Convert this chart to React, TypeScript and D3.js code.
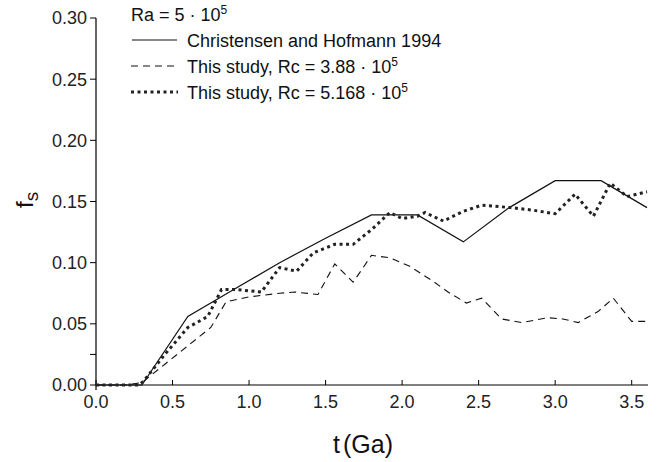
import React from "react";
import * as d3 from "d3";

const W = 662;
const H = 462;

// Christensen and Hofmann 1994
const chT = [0, 0.3, 0.6, 0.9, 1.2, 1.5, 1.8, 2.1, 2.4, 2.7, 3.0, 3.3, 3.6];
const chV = [0, 0, 0.056, 0.078, 0.1, 0.12, 0.139, 0.139, 0.117, 0.145, 0.167, 0.167, 0.145];

// This study, Rc = 3.88e5 (dashed)
const daT = [0, 0.1, 0.2, 0.3, 0.45, 0.6, 0.75, 0.85, 1.0, 1.2, 1.3, 1.45, 1.56, 1.68, 1.8, 1.92, 2.05, 2.2, 2.3, 2.42, 2.52, 2.65, 2.78, 2.95, 3.05, 3.15, 3.28, 3.38, 3.5, 3.6];
const daV = [0, 0, 0, 0.002, 0.017, 0.032, 0.047, 0.068, 0.072, 0.075, 0.076, 0.074, 0.099, 0.084, 0.106, 0.104, 0.097, 0.085, 0.076, 0.067, 0.071, 0.054, 0.051, 0.055, 0.054, 0.051, 0.06, 0.071, 0.052, 0.052];

// This study, Rc = 5.168e5 (dotted)
const doT = [0, 0.28, 0.31, 0.45, 0.6, 0.73, 0.82, 0.92, 1.08, 1.2, 1.31, 1.42, 1.56, 1.68, 1.8, 1.92, 2.0, 2.1, 2.15, 2.27, 2.4, 2.52, 2.71, 2.85, 3.0, 3.13, 3.25, 3.36, 3.47, 3.6];
const doV = [0, 0, 0.003, 0.025, 0.047, 0.056, 0.078, 0.078, 0.076, 0.096, 0.093, 0.108, 0.115, 0.115, 0.127, 0.141, 0.136, 0.138, 0.141, 0.134, 0.142, 0.147, 0.145, 0.143, 0.14, 0.156, 0.138, 0.165, 0.154, 0.158];

const xTicks = [0, 0.5, 1.0, 1.5, 2.0, 2.5, 3.0, 3.5];
const yTicks = [0, 0.05, 0.1, 0.15, 0.2, 0.25, 0.3];
const yMinorTicks = [0.025];

const FONT = "'Liberation Sans', Arial, Helvetica, sans-serif";

export default function App() {
  const x = d3.scaleLinear().domain([0, 3.6]).range([96, 647]);
  const y = d3.scaleLinear().domain([0, 0.3]).range([385, 18]);

  const line = d3
    .line<[number, number]>()
    .x((d) => x(d[0]))
    .y((d) => y(d[1]));

  const ch = chT.map((t, i) => [t, chV[i]] as [number, number]);
  const da = daT.map((t, i) => [t, daV[i]] as [number, number]);
  const dO = doT.map((t, i) => [t, doV[i]] as [number, number]);

  const x0 = x(0);
  const y0 = y(0);

  return (
    <svg
      width={W}
      height={H}
      style={{ position: "absolute", left: 0, top: 0, background: "#fff" }}
      fontFamily={FONT}
    >
      <rect width={W} height={H} fill="#fff" />
      {/* axes */}
      <line x1={x0} x2={x0} y1={y(0.3)} y2={y0 + 5} stroke="#000" strokeWidth={1.2} />
      <line x1={x0} x2={x(3.6) + 1} y1={y0} y2={y0} stroke="#000" strokeWidth={1.2} />
      {yTicks.map((t) => (
        <g key={"y" + t}>
          <line x1={x0 - 6} x2={x0} y1={y(t)} y2={y(t)} stroke="#000" strokeWidth={1} />
          <text x={x0 - 9} y={y(t)} dy="0.36em" textAnchor="end" fontSize={18} fill="#222">
            {t.toFixed(2)}
          </text>
        </g>
      ))}
      {yMinorTicks.map((t) => (
        <line key={"ym" + t} x1={x0 - 6} x2={x0} y1={y(t)} y2={y(t)} stroke="#000" strokeWidth={1} />
      ))}
      {xTicks.map((t) => (
        <g key={"x" + t}>
          <line x1={x(t)} x2={x(t)} y1={y0 - 5} y2={y0} stroke="#000" strokeWidth={1} />
          <text x={x(t)} y={408} textAnchor="middle" fontSize={18} fill="#222">
            {t.toFixed(1)}
          </text>
        </g>
      ))}

      {/* axis titles */}
      <text x={333} y={453} fontSize={25} fill="#111">
        t<tspan dx={3}>(Ga)</tspan>
      </text>
      <text transform="translate(33,208) rotate(-90)" fontSize={24} fill="#111">
        f<tspan dy={5} fontSize={19}>s</tspan>
      </text>

      {/* data lines */}
      <path d={line(ch) || ""} fill="none" stroke="#111" strokeWidth={1.2} />
      <path d={line(da) || ""} fill="none" stroke="#111" strokeWidth={1.1} strokeDasharray="7,5" />
      <path d={line(dO) || ""} fill="none" stroke="#222" strokeWidth={3} strokeDasharray="3,3.5" />

      {/* legend */}
      <text x={131} y={21} fontSize={18} fill="#111">
        Ra = 5 · 10<tspan dy={-7} fontSize={12}>5</tspan>
      </text>
      <line x1={132} x2={177} y1={40} y2={40} stroke="#111" strokeWidth={1.2} />
      <text x={187} y={47} fontSize={18} fill="#111">
        Christensen and Hofmann 1994
      </text>
      <line x1={131} x2={178} y1={66} y2={66} stroke="#111" strokeWidth={1.1} strokeDasharray="7,5" />
      <text x={187} y={73} fontSize={18} fill="#111">
        This study, Rc = 3.88 · 10<tspan dy={-7} fontSize={12}>5</tspan>
      </text>
      <line x1={131} x2={178} y1={92} y2={92} stroke="#222" strokeWidth={3} strokeDasharray="3,3.5" />
      <text x={187} y={99} fontSize={18} fill="#111">
        This study, Rc = 5.168 · 10<tspan dy={-7} fontSize={12}>5</tspan>
      </text>
    </svg>
  );
}
